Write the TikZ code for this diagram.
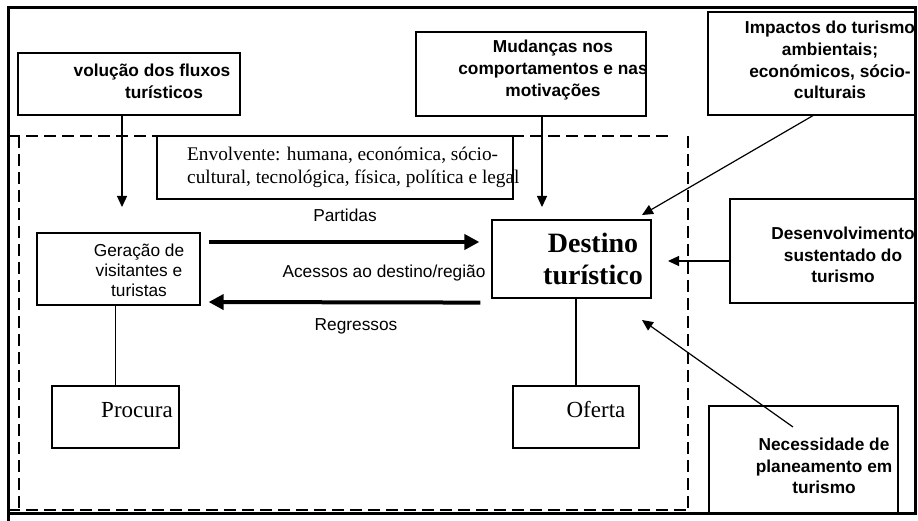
\documentclass[tikz,border=0pt]{standalone}
\usepackage{fontspec}
\setmainfont{Liberation Serif}
\setsansfont{Liberation Sans}
\usepackage{tikz}
\usetikzlibrary{arrows.meta, positioning, calc}
\tikzset{
	box/.style={
			draw=black,
			line width=1.2pt,
			fill=white,
			inner sep=0pt
		},
	boldtxt/.style={
			font=\sffamily\bfseries\fontsize{17.3}{21.7}\selectfont,
			align=center,
			inner sep=0pt
		},
	plaintxt/.style={
			font=\sffamily\fontsize{17.3}{20}\selectfont,
			align=center,
			inner sep=0pt
		},
	seriftxt/.style={
			font=\rmfamily\fontsize{19.3}{23}\selectfont,
			align=left,
			inner sep=0pt
		},
	thinarrow/.style={
			line width=1.2pt,
			-{Triangle[length=11pt,width=10pt]}
		},
	fatarrow/.style={
			line width=4pt,
			-{Triangle[length=15pt,width=15pt]}
		},
	zone/.style={
			line width=1.5pt,
			dash pattern=on 12pt off 6pt
		}
}

\begin{document}
\begin{tikzpicture}[x=1pt, y=-1pt]
\useasboundingbox (0,0) rectangle (918,521);

% dashed zone
\draw[zone] (8,136) -- (668,136);
\draw[zone] (19,136) -- (19,510);
\draw[zone] (8,510) -- (688,510);
\draw[zone] (688,136) -- (688,510);

% boxes
\node[box, minimum width=222pt, minimum height=62pt] (fluxos) at (129,84) {};
\node[box, minimum width=230pt, minimum height=84pt] (mudancas) at (531,74) {};
\node[box, minimum width=207pt, minimum height=103pt] (impactos) at (811.5,63.5) {};
\node[box, minimum width=356pt, minimum height=63pt] (envolv) at (335,167.5) {};
\node[box, minimum width=163pt, minimum height=72pt] (geracao) at (118.5,269) {};
\node[box, minimum width=159pt, minimum height=78pt] (destino) at (571.5,259) {};
\node[box, minimum width=127pt, minimum height=62pt] (procura) at (115.5,417) {};
\node[box, minimum width=126pt, minimum height=62pt] (oferta) at (576,417) {};
\node[box, minimum width=185pt, minimum height=104pt] (desenv) at (822.5,251) {};
\node[box, minimum width=189pt, minimum height=107pt] (necess) at (803.5,459.5) {};

% texts
\node[boldtxt] (fluxostxt) at (152,81.5) {volução dos fluxos\\\hspace*{24pt}turísticos};
\node[boldtxt] (mudancastxt) at (553,70) {Mudanças nos\\comportamentos e nas\\motivações};
\node[boldtxt] (impactostxt) at (830,60) {Impactos do turismo\\ambientais;\\económicos, sócio-\\culturais};
\node[seriftxt, anchor=west] (envolvtxt) at (187,167) {Envolvente: humana, económica, sócio-\\cultural, tecnológica, física, política e legal};
\node[plaintxt] (geracaotxt) at (139,270) {Geração de\\visitantes e\\turistas};
\node[font=\rmfamily\bfseries\fontsize{28}{32}\selectfont, align=center, inner sep=0pt] (destinotxt) at (593,259) {Destino\\turístico};
\node[font=\rmfamily\fontsize{23}{26}\selectfont, inner sep=0pt] (procuratxt) at (137,410) {Procura};
\node[font=\rmfamily\fontsize{23}{26}\selectfont, inner sep=0pt] (ofertatxt) at (596,410) {Oferta};
\node[boldtxt] (desenvtxt) at (843,255) {Desenvolvimento\\sustentado do\\turismo};
\node[boldtxt] (necesstxt) at (824,466) {Necessidade de\\planeamento em\\turismo};

\node[plaintxt] (partidas) at (345,215) {Partidas};
\node[plaintxt] (acessos) at (384,273) {Acessos ao destino/região};
\node[plaintxt] (regressos) at (356,326) {Regressos};

% free ends
\coordinate (fluxtip) at (122,207);
\coordinate (mudtip) at (542,207);
\coordinate (imptip) at (642,215);
\coordinate (destip) at (668,261);
\coordinate (nectip) at (642,320);

% connectors
\draw[thinarrow] (fluxos.south -| fluxtip) -- (fluxtip);
\draw[thinarrow] (mudancas.south -| mudtip) -- (mudtip);
\draw[thinarrow] ([xshift=1.5pt]impactos.south) -- (imptip);
\draw[thinarrow] (desenv.west |- destip) -- (destip);
\draw[thinarrow] ([shift={(-10.5pt,32.5pt)}]necess.center) -- (nectip);

\draw[fatarrow, shorten <=8pt, shorten >=12pt] ([yshift=27pt]geracao.east) -- ([yshift=17pt]destino.west);
\draw[fatarrow, shorten <=11pt, shorten >=8pt] ([yshift=-4pt]destino.south west) -- ([yshift=-33pt]geracao.east);

\draw[line width=1.2pt] (procura.north) -- (procura.north |- geracao.south);
\draw[line width=1.2pt] (oferta.north) -- (oferta.north |- destino.south);

% outer frame
\draw[line width=3pt] (8,8) rectangle (915,513);
\draw[line width=3pt] (8,513) -- (8,521);
\end{tikzpicture}
\end{document}
